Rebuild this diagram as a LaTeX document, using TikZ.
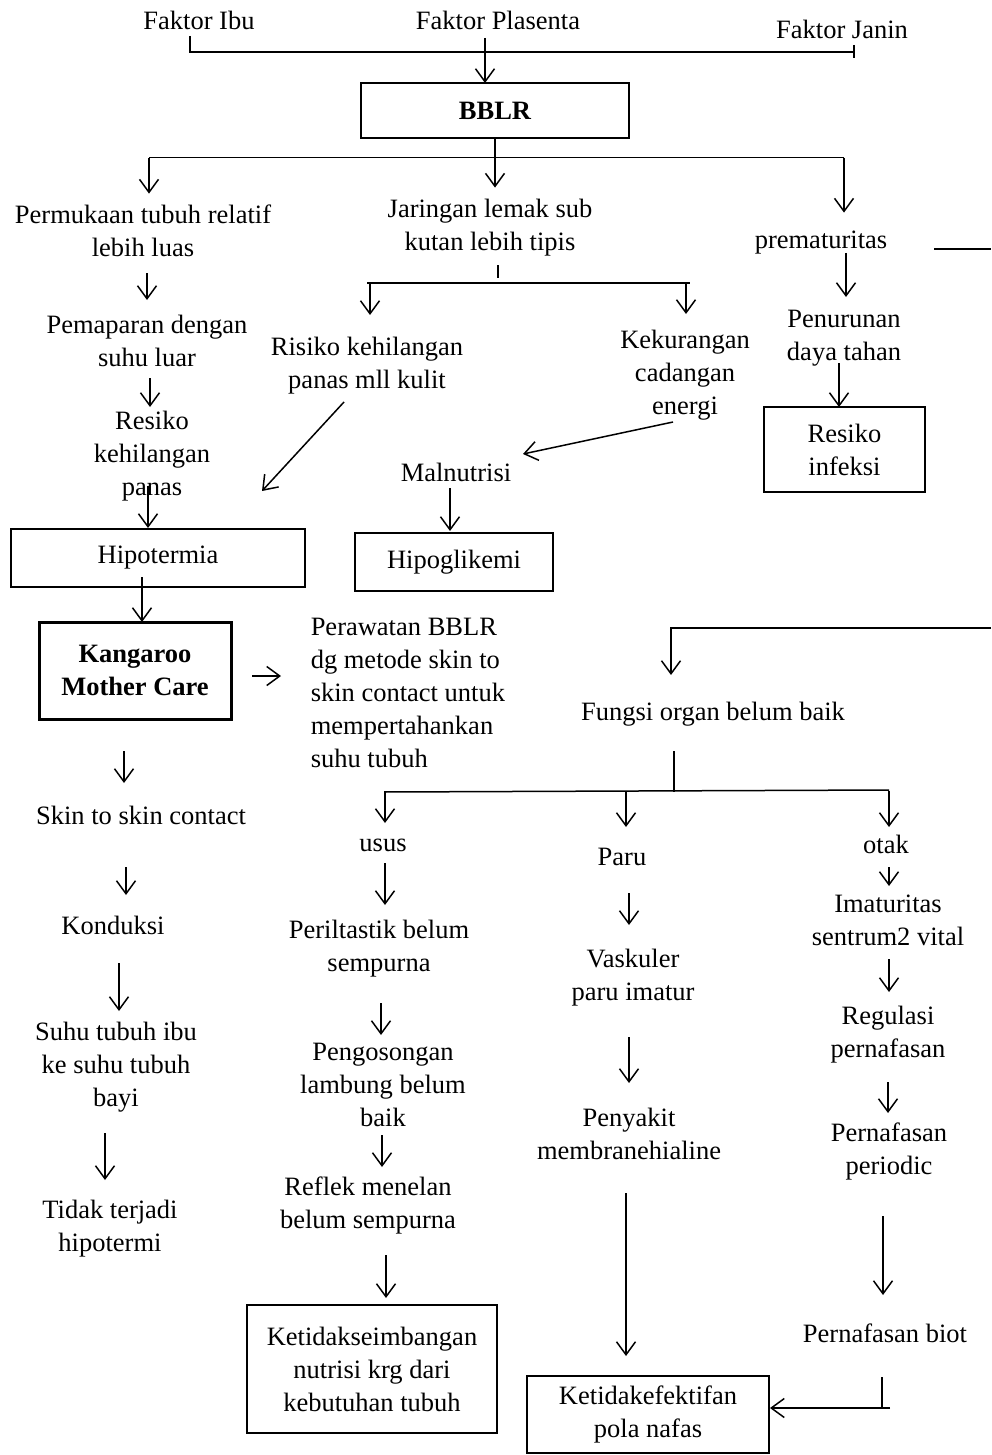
\documentclass[tikz,border=0pt]{standalone}
\usepackage{fontspec}
\setmainfont{Liberation Serif}
\usetikzlibrary{arrows.meta,calc}
\begin{document}
\begin{tikzpicture}[x=1pt,y=-1pt,
  line width=1.5pt,
  txt/.style={align=center,inner sep=0pt,font=\fontsize{26.5}{33}\selectfont},
  boxed/.style={txt,draw,line width=1.2pt},
  arr/.style={-{Straight Barb[length=13pt,width=19pt]}},
]
\useasboundingbox (0,0) rectangle (991,1455);

% ---------- nodes ----------
\node[txt] (fibu) at (199,20) {Faktor Ibu};
\node[txt] (fpla) at (498,20) {Faktor Plasenta};
\node[txt] (fjan) at (842,29) {Faktor Janin};
\node[boxed,minimum width=268pt,minimum height=55pt,font=\fontsize{26.5}{33}\selectfont\bfseries] (bblr) at (495,110.5) {BBLR};

\node[txt] (perm) at (143,231) {Permukaan tubuh relatif\\lebih luas};
\node[txt] (jar) at (490,228) {Jaringan lemak sub\\kutan lebih tipis};
\node[txt] (prem) at (821,243) {prematuritas};
\node[txt] (pemap) at (147,341) {Pemaparan dengan\\suhu luar};
\node[txt] (risiko) at (367,366) {Risiko kehilangan\\panas mll kulit};
\node[txt] (kekur) at (685,375) {Kekurangan\\cadangan\\energi};
\node[txt] (penur) at (844,338) {Penurunan\\daya tahan};
\node[boxed,minimum width=161pt,minimum height=85pt] (infeksi) at (844.5,449.5) {Resiko\\infeksi};
\node[txt] (resiko) at (152,456) {Resiko\\kehilangan\\panas};
\node[txt] (maln) at (456,472) {Malnutrisi};
\node[boxed,minimum width=294pt,minimum height=58pt] (hipot) at (158,558) {Hipotermia};
\node[boxed,minimum width=198pt,minimum height=58pt] (hipog) at (454,562) {Hipoglikemi};
\node[boxed,line width=3pt,minimum width=192pt,minimum height=97pt,font=\fontsize{26.5}{33}\selectfont\bfseries] (kmc) at (135,670.5) {Kangaroo\\Mother Care};
\node[txt,align=left,anchor=west] (peraw) at (310,693) {Perawatan BBLR\\dg metode skin to\\skin contact untuk\\mempertahankan\\suhu tubuh};
\node[txt] (fungsi) at (713,714) {Fungsi organ belum baik};

\node[txt] (skin) at (141,815) {Skin to skin contact};
\node[txt] (kond) at (113,925) {Konduksi};
\node[txt] (suhu) at (116,1067) {Suhu tubuh ibu\\ke suhu tubuh\\bayi};
\node[txt] (tidak) at (110,1229) {Tidak terjadi\\hipotermi};

\node[txt] (usus) at (383,845) {usus};
\node[txt] (perilt) at (379,949) {Periltastik belum\\sempurna};
\node[txt] (pengos) at (383,1085) {Pengosongan\\lambung belum\\baik};
\node[txt] (reflek) at (368,1205) {Reflek menelan\\belum sempurna};
\node[boxed,minimum width=250pt,minimum height=128pt] (ketnut) at (372,1369) {Ketidakseimbangan\\nutrisi krg dari\\kebutuhan tubuh};

\node[txt] (paru) at (622,857) {Paru};
\node[txt] (vask) at (633,978) {Vaskuler\\paru imatur};
\node[txt] (penyak) at (629,1134) {Penyakit\\membranehialine};
\node[boxed,minimum width=242pt,minimum height=77pt] (ketef) at (648,1414.5) {Ketidakefektifan\\pola nafas};

\node[txt] (otak) at (886,844) {otak};
\node[txt] (imat) at (888,920) {Imaturitas\\sentrum2 vital};
\node[txt] (regul) at (888,1035) {Regulasi\\pernafasan};
\node[txt] (pernper) at (889,1151) {Pernafasan\\periodic};
\node[txt] (biot) at (885,1333) {Pernafasan biot};

\coordinate (edgeA) at (991,249);
\coordinate (edgeB) at (991,628);

% ---------- connectors ----------
% top factors
\draw (fibu.center) ++(-9,16) -- ++(0,16) -- ++(665,0);
\draw (fjan.center) ++(12,16) -- ++(0,13);
\draw[arr] (fpla.center) ++(-13,18) -- ++(0,45);

% BBLR branches
\draw[arr] (bblr.south) -- ++(0,49);
\draw (bblr.south) ++(-346,19) -- ++(695,0);
\draw[arr] (bblr.south) ++(-346,19) -- ++(0,36);
\draw[arr] (bblr.south) ++(349,19) -- ++(0,55);

% jaringan branch
\draw (jar.center) ++(8,37) -- ++(0,13);
\draw (jar.center) ++(-123,55) -- ++(323,0);
\draw[arr] (jar.center) ++(-120,55) -- ++(0,32);
\draw[arr] (jar.center) ++(196,55) -- ++(0,31);

% prematuritas
\draw (prem.center) ++(113,6) -- (edgeA);
\draw[arr] (prem.center) ++(25,10) -- ++(0,44);
\draw[arr] (penur.center) ++(-5,25) -- ++(0,44);

% left column
\draw[arr] (perm.center) ++(4,42) -- ++(0,27);
\draw[arr] (pemap.center) ++(3,37) -- ++(0,29);
\draw[arr] (resiko.center) ++(-4,30) -- ++(0,42);
\draw[arr] (risiko.center) ++(-23,36) -- ++(-82,89);
\draw[arr] (kekur.center) ++(-12,47) -- ++(-150,32);
\draw[arr] (maln.center) ++(-6,16) -- ++(0,43);
\draw[arr] (hipot.center) ++(-16,19) -- ++(0,45);
\draw[arr] (kmc.center) ++(117,5.5) -- ++(29,0);
\draw[arr] (kmc.center) ++(-11,80.5) -- ++(0,32);
\draw[arr] (skin.center) ++(-15,52) -- ++(0,28);
\draw[arr] (kond.center) ++(6,38) -- ++(0,48);
\draw[arr] (suhu.center) ++(-11,66) -- ++(0,47);

% fungsi organ
\draw[arr] (edgeB) -| ([xshift=-42pt,yshift=39pt]fungsi.center);
\draw (fungsi.center) ++(-39,37) -- ++(0,41);
\draw (fungsi.center) ++(-329,78) -- ++(505,-2);
\draw[arr] (usus.center) ++(2,-54) -- ++(0,32);
\draw[arr] (paru.center) ++(4,-66) -- ++(0,36);
\draw[arr] (otak.center) ++(3,-53) -- ++(0,36);

% usus column
\draw[arr] (usus.center) ++(2,18) -- ++(0,42);
\draw[arr] (perilt.center) ++(2,54) -- ++(0,32);
\draw[arr] (pengos.center) ++(-1,50) -- ++(0,32);
\draw[arr] (reflek.center) ++(18,50) -- ++(0,43);

% paru column
\draw[arr] (paru.center) ++(7,36) -- ++(0,32);
\draw[arr] (vask.center) ++(-4,59) -- ++(0,46);
\draw[arr] (penyak.center) ++(-3,59) -- ++(0,163);

% otak column
\draw[arr] (otak.center) ++(3,23) -- ++(0,19);
\draw[arr] (imat.center) ++(1,39) -- ++(0,33);
\draw[arr] (regul.center) ++(0,47) -- ++(0,31);
\draw[arr] (pernper.center) ++(-6,65) -- ++(0,79);
\draw (biot.center) ++(-3,44) -- ++(0,31);
\draw[arr] (biot.center) ++(5,75) -- ++(-120,0);

\end{tikzpicture}
\end{document}
